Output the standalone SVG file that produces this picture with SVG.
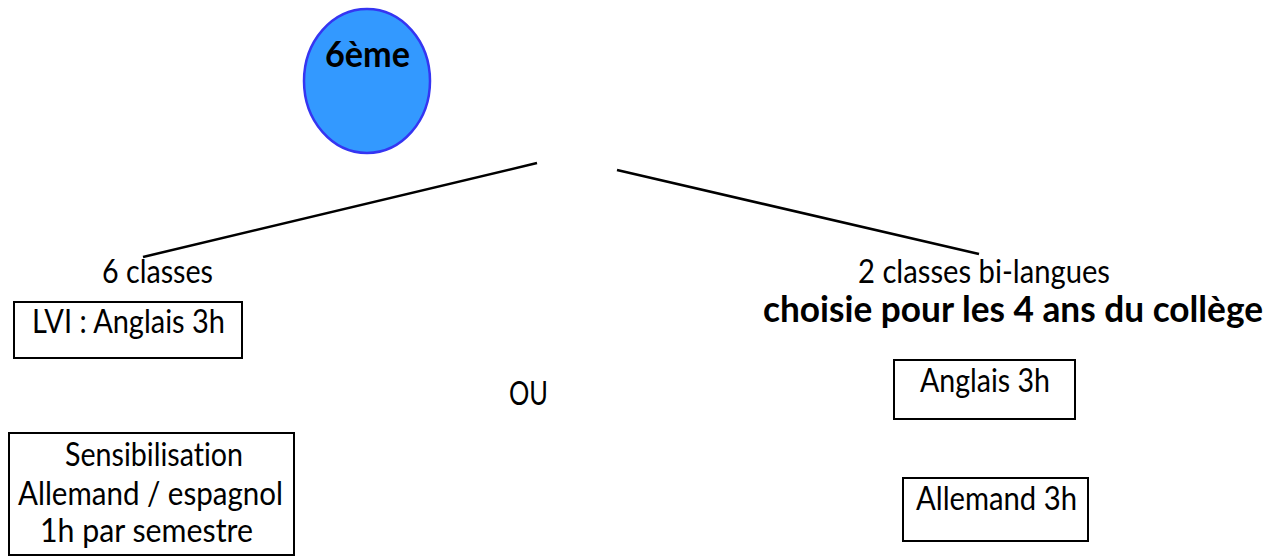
<svg xmlns="http://www.w3.org/2000/svg" width="1271" height="557" viewBox="0 0 1271 557">
  <style>
    .t { font-family: Lato, "Liberation Sans", sans-serif; font-size: 32px; fill: #000; font-variant-ligatures: none; }
    .b { font-family: Lato, "Liberation Sans", sans-serif; font-size: 36px; font-weight: bold; fill: #000; font-variant-ligatures: none; }
    .box { fill: #fff; stroke: #000; stroke-width: 2; }
    .link { stroke: #000; stroke-width: 2.5; fill: none; }
  </style>
  <rect width="1271" height="557" fill="#fff"/>

  <g id="connectors">
    <line class="link" x1="143" y1="257" x2="537" y2="163"/>
    <line class="link" x1="617" y1="170" x2="979" y2="254"/>
  </g>

  <g id="sixieme">
    <ellipse cx="367" cy="81" rx="63" ry="72" fill="#3399FF" stroke="#3535F2" stroke-width="2.5"/>
    <text class="b" x="325" y="67" textLength="85" lengthAdjust="spacingAndGlyphs">6ème</text>
  </g>

  <g id="six-classes">
    <text class="t" x="102" y="283" textLength="111" lengthAdjust="spacingAndGlyphs">6 classes</text>
  </g>

  <g id="lv1">
    <rect class="box" x="14" y="302" width="228" height="56"/>
    <text class="t" x="32" y="333" textLength="193" lengthAdjust="spacingAndGlyphs">LVI : Anglais 3h</text>
  </g>

  <g id="ou">
    <text class="t" x="509" y="405" textLength="39" lengthAdjust="spacingAndGlyphs">OU</text>
  </g>

  <g id="sensibilisation">
    <rect class="box" x="9" y="433" width="285" height="122"/>
    <text class="t" x="65" y="466" textLength="178" lengthAdjust="spacingAndGlyphs">Sensibilisation</text>
    <text class="t" x="18" y="505" textLength="265" lengthAdjust="spacingAndGlyphs">Allemand / espagnol</text>
    <text class="t" x="40" y="542" textLength="213" lengthAdjust="spacingAndGlyphs">1h par semestre</text>
  </g>

  <g id="bilangues">
    <text class="t" x="858" y="283" textLength="252" lengthAdjust="spacingAndGlyphs">2 classes bi-langues</text>
    <text class="b" x="763" y="322" textLength="500" lengthAdjust="spacingAndGlyphs">choisie pour les 4 ans du collège</text>
  </g>

  <g id="anglais">
    <rect class="box" x="894" y="360" width="181" height="59"/>
    <text class="t" x="920" y="392" textLength="130" lengthAdjust="spacingAndGlyphs">Anglais 3h</text>
  </g>

  <g id="allemand">
    <rect class="box" x="903" y="478" width="185" height="63"/>
    <text class="t" x="916" y="510" textLength="161" lengthAdjust="spacingAndGlyphs">Allemand 3h</text>
  </g>
</svg>
